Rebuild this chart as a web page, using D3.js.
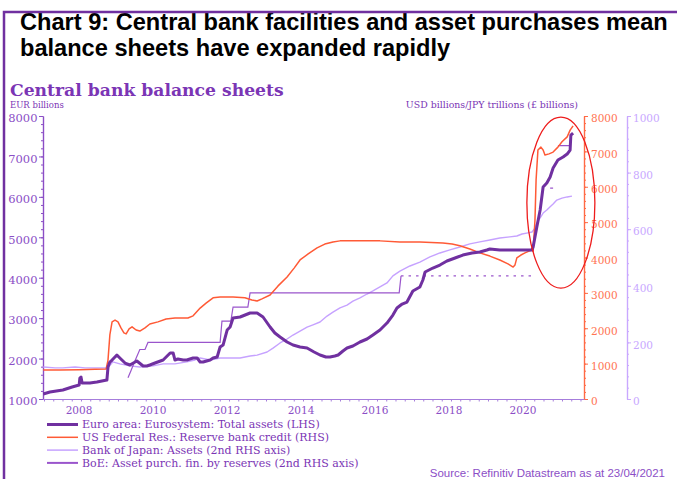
<!DOCTYPE html>
<html>
<head>
<meta charset="utf-8">
<script src="https://cdn.jsdelivr.net/npm/d3@7"></script>
<style>
  html, body { margin: 0; padding: 0; background: #fff; }
  svg { display: block; }
</style>
</head>
<body>
<svg id="chart" width="677" height="479"></svg>
<script>
// Euro area: Eurosystem total assets, EUR billions (left axis)
const ecbDates = [2006.98, 2007.16, 2007.51, 2007.76, 2007.95, 2007.97, 2008.00, 2008.03, 2008.24, 2008.43,
  2008.70, 2008.73, 2008.78, 2008.84, 2008.97, 2009.05, 2009.19, 2009.32, 2009.51, 2009.68,
  2009.78, 2009.86, 2010.00, 2010.22, 2010.41, 2010.49, 2010.54, 2010.62, 2010.76, 2010.86,
  2011.03, 2011.14, 2011.22, 2011.30, 2011.49, 2011.57, 2011.68, 2011.76, 2011.84, 2011.95,
  2012.03, 2012.11, 2012.30, 2012.57, 2012.76, 2012.92, 2013.11, 2013.24, 2013.38, 2013.57,
  2013.73, 2013.92, 2014.11, 2014.30, 2014.46, 2014.62, 2014.73, 2014.86, 2014.95, 2015.08,
  2015.19, 2015.35, 2015.54, 2015.73, 2015.89, 2016.08, 2016.27, 2016.43, 2016.54, 2016.68,
  2016.81, 2016.97, 2017.16, 2017.24, 2017.30, 2017.51, 2017.70, 2017.89, 2018.11, 2018.32,
  2018.57, 2018.78, 2018.97, 2019.05, 2019.32, 2019.68, 2019.86, 2020.05, 2020.19, 2020.22,
  2020.32, 2020.41, 2020.49, 2020.59, 2020.68, 2020.76, 2020.89, 2021.03, 2021.14, 2021.22,
  2021.24, 2021.30];
const ecbValues = [1124, 1173, 1223, 1297, 1346, 1519, 1544, 1396, 1396, 1420,
  1470, 1791, 1915, 1964, 2088, 2014, 1890, 1841, 1940, 1816,
  1816, 1841, 1890, 1964, 2138, 2138, 1964, 1989, 1964, 1964,
  2014, 2014, 1915, 1915, 1964, 2014, 2039, 2286, 2335, 2706,
  2781, 3003, 3028, 3127, 3127, 3028, 2781, 2632, 2533, 2410,
  2335, 2286, 2261, 2162, 2088, 2039, 2039, 2063, 2088, 2187,
  2261, 2311, 2410, 2484, 2583, 2706, 2879, 3077, 3250, 3349,
  3399, 3671, 3770, 3943, 4141, 4240, 4314, 4413, 4487, 4561,
  4611, 4635, 4685, 4710, 4685, 4685, 4685, 4685, 4685, 4759,
  5254, 5674, 6243, 6342, 6490, 6713, 6910, 6985, 7059, 7158,
  7529, 7578];

// US Federal Reserve: reserve bank credit, USD billions (first right axis)
const fedDates = [2006.98, 2007.43, 2007.97, 2008.38, 2008.68, 2008.73, 2008.78, 2008.84, 2008.92, 2009.00,
  2009.08, 2009.16, 2009.22, 2009.30, 2009.38, 2009.49, 2009.59, 2009.73, 2009.86, 2010.08,
  2010.30, 2010.54, 2010.76, 2010.89, 2011.03, 2011.22, 2011.38, 2011.57, 2011.76, 2012.11,
  2012.43, 2012.62, 2012.76, 2012.89, 2013.11, 2013.32, 2013.57, 2013.76, 2013.92, 2014.14,
  2014.38, 2014.59, 2014.81, 2015.00, 2015.54, 2016.08, 2016.62, 2017.16, 2017.78, 2018.03,
  2018.24, 2018.51, 2018.78, 2019.05, 2019.32, 2019.54, 2019.68, 2019.73, 2019.78, 2019.89,
  2020.00, 2020.11, 2020.19, 2020.22, 2020.27, 2020.30, 2020.35, 2020.43, 2020.49, 2020.54,
  2020.65, 2020.76, 2020.89, 2021.00, 2021.14, 2021.22, 2021.30];
const fedValues = [820, 820, 830, 840, 850, 1100, 1810, 2180, 2230, 2180,
  2010, 1870, 1840, 1980, 2040, 1950, 1920, 2010, 2120, 2180,
  2260, 2290, 2290, 2290, 2350, 2570, 2710, 2860, 2880, 2880,
  2860, 2800, 2770, 2830, 2940, 3190, 3450, 3700, 3930, 4100,
  4270, 4380, 4440, 4470, 4470, 4470, 4440, 4440, 4410, 4380,
  4330, 4240, 4130, 4040, 3930, 3820, 3730, 3790, 3990, 4070,
  4130, 4180, 4210, 4180, 5060, 6190, 7040, 7120, 7040, 6900,
  6930, 6980, 7120, 7270, 7410, 7600, 7720];

// Bank of Japan: total assets, JPY trillions (second right axis)
const bojDates = [2006.98, 2007.30, 2007.51, 2007.84, 2008.11, 2008.43, 2008.73, 2008.86, 2009.05, 2009.32,
  2009.59, 2009.95, 2010.22, 2010.54, 2010.86, 2011.08, 2011.22, 2011.49, 2011.76, 2011.95,
  2012.30, 2012.57, 2012.76, 2013.03, 2013.19, 2013.38, 2013.57, 2013.73, 2013.92, 2014.11,
  2014.27, 2014.46, 2014.65, 2014.81, 2015.00, 2015.19, 2015.35, 2015.54, 2015.73, 2015.89,
  2016.08, 2016.27, 2016.43, 2016.62, 2016.89, 2017.16, 2017.43, 2017.70, 2017.97, 2018.24,
  2018.51, 2018.78, 2019.05, 2019.32, 2019.59, 2019.78, 2019.92, 2020.08, 2020.19, 2020.27,
  2020.32, 2020.41, 2020.49, 2020.59, 2020.68, 2020.76, 2020.86, 2021.00, 2021.14, 2021.27];
const bojValues = [113, 110, 110, 113, 110, 110, 110, 131, 124, 117,
  113, 117, 124, 124, 131, 138, 145, 138, 145, 145,
  145, 152, 155, 166, 180, 198, 212, 226, 240, 254,
  262, 272, 293, 307, 322, 332, 346, 357, 371, 382,
  396, 410, 435, 452, 470, 484, 502, 516, 527, 537,
  548, 555, 562, 569, 573, 576, 583, 587, 590, 604,
  622, 640, 657, 668, 679, 689, 703, 710, 714, 717];

// Bank of England: asset purchases financed by reserves, GBP billions (second right axis);
// null marks weeks with no published figure
const boeDates = [2009.27, 2009.35, 2009.46, 2009.59, 2009.73, 2009.81, 2011.76, 2011.81, 2012.05, 2012.11,
  2012.51, 2012.57, 2016.60, 2016.65, 2020.19, 2020.22, 2020.68, 2020.76, 2020.80, 2020.89, 2021.22];
const boeValues = [75, 100, 135, 175, 175, 200, 200, 275, 275, 325,
  325, 375, 375, 435, 435, null, 745, 745, null, 895, 895];

// Axis ticks and labels
const leftTicks = [1000, 2000, 3000, 4000, 5000, 6000, 7000, 8000];
const usdTicks = [0, 1000, 2000, 3000, 4000, 5000, 6000, 7000, 8000];
const secondTicks = [0, 200, 400, 600, 800, 1000];
const yearLabels = [2008, 2010, 2012, 2014, 2016, 2018, 2020];
const legendLabels = [
  "Euro area: Eurosystem: Total assets (LHS)",
  "US Federal Res.: Reserve bank credit (RHS)",
  "Bank of Japan: Assets (2nd RHS axis)",
  "BoE: Asset purch. fin. by reserves (2nd RHS axis)"
];

const svg = d3.select("#chart");
const serif = "'DejaVu Serif', serif";
const purple = "#7b35b5";
const tickPurple = "#8b4ec6";

const colors = { ecb: "#7030a0", fed: "#ff5a36", boj: "#c6a2ff", boe: "#9a55cc" };

// Scales
const x = d3.scaleLinear().domain([2006.973, 2021.595]).range([43, 584]);
const yL = d3.scaleLinear().domain([1000, 8000]).range([399, 116]);
const yR = d3.scaleLinear().domain([0, 8000]).range([399, 116]);
const y2 = d3.scaleLinear().domain([0, 1000]).range([399, 116]);

// Headline
const head = svg.append("g")
  .attr("font-family", "'Liberation Sans', Arial, sans-serif")
  .attr("font-weight", "bold").attr("font-size", 23.6).attr("fill", "#000");
head.append("text").attr("x", 20).attr("y", 29.5)
  .text("Chart 9: Central bank facilities and asset purchases mean");
head.append("text").attr("x", 20).attr("y", 56)
  .text("balance sheets have expanded rapidly");

svg.append("text").attr("x", 10).attr("y", 96)
  .attr("font-family", serif).attr("font-weight", "bold").attr("font-size", 17.2)
  .attr("fill", purple).text("Central bank balance sheets");

svg.append("text").attr("x", 10).attr("y", 108)
  .attr("font-family", serif).attr("font-size", 8.5).attr("fill", purple)
  .text("EUR billions");
svg.append("text").attr("x", 578).attr("y", 108).attr("text-anchor", "end")
  .attr("font-family", serif).attr("font-size", 9.4).attr("fill", purple)
  .text("USD billions/JPY trillions (£ billions)");

// Helper to style a d3 axis group
function styleAxis(g, lineColor, textColor, size) {
  g.selectAll("path").attr("stroke", lineColor).attr("stroke-width", 1.2);
  g.selectAll("line").attr("stroke", lineColor).attr("stroke-width", 1);
  g.selectAll("text").attr("fill", textColor).attr("font-family", serif).attr("font-size", size || 10);
}

function minorRange(lo, hi, step) {
  return d3.range(lo, hi + step / 2, step);
}

// Left axis (EUR)
const leftMinor = svg.append("g").attr("transform", "translate(43,0)")
  .call(d3.axisLeft(yL).tickValues(minorRange(1000, 8000, 200)).tickSize(2).tickSizeOuter(0).tickFormat(""));
styleAxis(leftMinor, tickPurple, tickPurple);
const leftMajor = svg.append("g").attr("transform", "translate(43,0)")
  .call(d3.axisLeft(yL).tickValues(leftTicks).tickSize(4).tickSizeOuter(0).tickPadding(1.5).tickFormat(d3.format("d")));
styleAxis(leftMajor, tickPurple, tickPurple, 11.5);
leftMajor.selectAll("text").attr("dy", "0.5em");

// First right axis (USD)
const usdColor = "#ff6a45";
const rMinor = svg.append("g").attr("transform", "translate(584,0)")
  .call(d3.axisRight(yR).tickValues(minorRange(0, 8000, 200)).tickSize(2).tickSizeOuter(0).tickFormat(""));
styleAxis(rMinor, usdColor, usdColor);
const rMajor = svg.append("g").attr("transform", "translate(584,0)")
  .call(d3.axisRight(yR).tickValues(usdTicks).tickSize(4).tickSizeOuter(0).tickPadding(3).tickFormat(d3.format("d")));
styleAxis(rMajor, usdColor, "#ff7452", 10.5);
rMajor.selectAll("text").attr("dy", "0.55em");

// Second right axis (JPY / GBP)
const secColor = "#c9a8ff";
const sMinor = svg.append("g").attr("transform", "translate(627,0)")
  .call(d3.axisRight(y2).tickValues(minorRange(0, 1000, 40)).tickSize(2).tickSizeOuter(0).tickFormat(""));
styleAxis(sMinor, secColor, secColor);
const sMajor = svg.append("g").attr("transform", "translate(627,0)")
  .call(d3.axisRight(y2).tickValues(secondTicks).tickSize(4).tickSizeOuter(0).tickPadding(2).tickFormat(d3.format("d")));
styleAxis(sMajor, secColor, secColor, 10.5);
sMajor.selectAll("text").attr("dy", "0.55em");

// Bottom time axis: quarterly ticks, labels on even years
const quarters = d3.range(2007, 2021.6, 0.25);
const xAxis = svg.append("g").attr("transform", "translate(0,399)")
  .call(d3.axisBottom(x).tickValues(quarters).tickSize(2.5).tickSizeOuter(0).tickFormat(""));
styleAxis(xAxis, "#a67ddc", tickPurple);
svg.append("g").selectAll("text").data(yearLabels).join("text")
  .attr("x", d => x(d) - 2).attr("y", 414).attr("text-anchor", "middle")
  .attr("font-family", serif).attr("font-size", 10.5).attr("fill", tickPurple)
  .text(d => d);

// Series
const plot = svg.append("g");
const lineL = d3.line().x(d => x(d[0])).y(d => yL(d[1]));
const lineR = d3.line().x(d => x(d[0])).y(d => yR(d[1]));
const line2 = d3.line().defined(d => d[1] != null).x(d => x(d[0])).y(d => y2(d[1]));

const bojData = d3.zip(bojDates, bojValues);
const fedData = d3.zip(fedDates, fedValues);
const ecbData = d3.zip(ecbDates, ecbValues);
const boeData = d3.zip(boeDates, boeValues);

plot.append("path").datum(bojData).attr("d", line2)
  .attr("fill", "none").attr("stroke", colors.boj).attr("stroke-width", 1.4).attr("stroke-linejoin", "round");

// BoE: solid up to the 2016 step, dashed while the weekly figure is sparse, then solid again
const dashFrom = 2016.65, dashTo = 2020.19;
const boeSolidA = boeData.filter(d => d[0] <= dashFrom);
const boeDashed = boeData.filter(d => d[0] >= dashFrom && d[0] <= dashTo);
const boeSolidB = boeData.filter(d => d[0] > dashTo);
[boeSolidA, boeSolidB].forEach(seg => {
  plot.append("path").datum(seg).attr("d", line2)
    .attr("fill", "none").attr("stroke", colors.boe).attr("stroke-width", 1.2);
});
plot.append("path").datum(boeDashed).attr("d", line2)
  .attr("fill", "none").attr("stroke", colors.boe).attr("stroke-width", 1.2)
  .attr("stroke-dasharray", "2.5,5");

plot.append("path").datum(fedData).attr("d", lineR)
  .attr("fill", "none").attr("stroke", colors.fed).attr("stroke-width", 1.5).attr("stroke-linejoin", "round");

plot.append("path").datum(ecbData).attr("d", lineL)
  .attr("fill", "none").attr("stroke", colors.ecb).attr("stroke-width", 3).attr("stroke-linejoin", "round");

// Highlight ring around the 2020-21 expansion
svg.append("ellipse")
  .attr("cx", x(2020.97)).attr("cy", yR(5550))
  .attr("rx", 34).attr("ry", 85.5)
  .attr("fill", "none").attr("stroke", "#ee1c1c").attr("stroke-width", 1.3);

// Legend
const legendColors = [colors.ecb, colors.fed, colors.boj, colors.boe];
const legendWidths = [3, 1.5, 1.5, 2];
const legend = svg.append("g");
legendLabels.forEach((label, i) => {
  const yy = 424.5 + i * 12.8;
  legend.append("line").attr("x1", 47).attr("x2", 78).attr("y1", yy).attr("y2", yy)
    .attr("stroke", legendColors[i]).attr("stroke-width", legendWidths[i]);
  legend.append("text").attr("x", 82).attr("y", yy + 3.8)
    .attr("font-family", serif).attr("font-size", 11).attr("fill", purple)
    .text(label);
});

svg.append("text").attr("x", 665).attr("y", 477).attr("text-anchor", "end")
  .attr("font-family", "'Liberation Sans', Arial, sans-serif").attr("font-size", 11.5)
  .attr("fill", tickPurple).text("Source: Refinitiv Datastream as at 23/04/2021");

// Frame on the left and top edge
svg.append("path").attr("d", "M4,479V12H677")
  .attr("fill", "none").attr("stroke", "#7030a0").attr("stroke-width", 2.5);
</script>
</body>
</html>
